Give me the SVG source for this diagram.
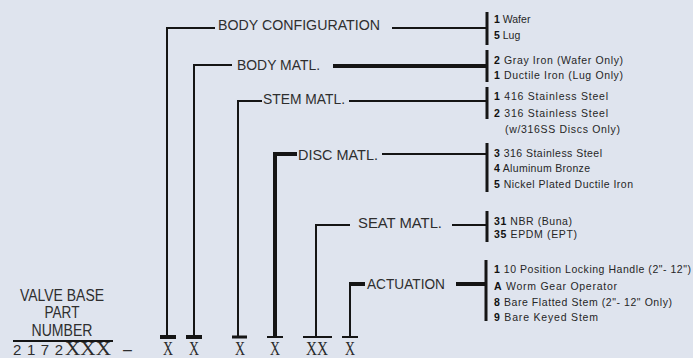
<svg xmlns="http://www.w3.org/2000/svg" width="693" height="358" viewBox="0 0 693 358">
<style>
.ln{stroke:#151515;stroke-width:2;fill:none}
.thk{stroke-width:4}
.br{stroke:#151515;stroke-width:3;fill:none}
.lbl{font-family:"Liberation Sans",Arial,sans-serif;font-size:15px;fill:#2e2e2e}
.opt{font-family:"Liberation Sans",Arial,sans-serif;font-size:10.5px;fill:#262626}
.num{font-weight:bold;fill:#111}
.x{font-family:"Liberation Serif","Times New Roman",serif;font-size:18px;fill:#2a2a2a}
.pn{font-family:"Liberation Sans",Arial,sans-serif;font-size:16px;fill:#2e2e2e}
</style>
<rect width="693" height="358" fill="#dfe4ee"/>
<g id="connectors">
<path class="ln" d="M167 337V28H215"/>
<path class="ln" d="M194 337V65H232"/>
<path class="ln" d="M238 337V101H262"/>
<path class="ln thk" d="M275 337V154H297"/>
<path class="ln" d="M316 337V225H350"/>
<path class="ln" d="M350 337V284"/>
<path class="ln thk" d="M349 284H365"/>
<path class="ln thk" d="M160 337H176"/>
<path class="ln thk" d="M186 337H202"/>
<path class="ln" style="stroke-width:3" d="M232 337H247"/>
<path class="ln" d="M267 337H283"/>
<path class="ln" d="M303 337H332"/>
<path class="ln" d="M342 337H358"/>
<path class="ln" d="M392 28H487"/>
<path class="ln thk" d="M333 66H487"/>
<path class="ln" d="M349 101H487"/>
<path class="ln" d="M382 154H487"/>
<path class="ln" d="M452 225H487"/>
<path class="ln thk" d="M456 284H487"/>
</g>
<g id="body-configuration">
<text class="lbl" x="218" y="30" textLength="162" lengthAdjust="spacingAndGlyphs">BODY CONFIGURATION</text>
<path class="br" d="M487 12V45"/>
<text class="opt" x="494" y="23"><tspan class="num">1</tspan> Wafer</text>
<text class="opt" x="494" y="39"><tspan class="num">5</tspan> Lug</text>
</g>
<g id="body-matl">
<text class="lbl" x="237" y="70" textLength="83" lengthAdjust="spacingAndGlyphs">BODY MATL.</text>
<path class="br" d="M487 50V82"/>
<text class="opt" x="494" y="64" textLength="129"><tspan class="num">2</tspan> Gray Iron (Wafer Only)</text>
<text class="opt" x="494" y="79" textLength="129"><tspan class="num">1</tspan> Ductile Iron (Lug Only)</text>
</g>
<g id="stem-matl">
<text class="lbl" x="263" y="104" textLength="82" lengthAdjust="spacingAndGlyphs">STEM MATL.</text>
<path class="br" d="M487 87V119"/>
<text class="opt" x="494" y="100" textLength="114"><tspan class="num">1</tspan> 416 Stainless Steel</text>
<text class="opt" x="494" y="117" textLength="114"><tspan class="num">2</tspan> 316 Stainless Steel</text>
<text class="opt" x="505" y="133" textLength="115">(w/316SS Discs Only)</text>
</g>
<g id="disc-matl">
<text class="lbl" x="298" y="160" textLength="80" lengthAdjust="spacingAndGlyphs">DISC MATL.</text>
<path class="br" d="M487 143V192"/>
<text class="opt" x="494" y="157" textLength="108"><tspan class="num">3</tspan> 316 Stainless Steel</text>
<text class="opt" x="494" y="172" textLength="96"><tspan class="num">4</tspan> Aluminum Bronze</text>
<text class="opt" x="494" y="188" textLength="139"><tspan class="num">5</tspan> Nickel Plated Ductile Iron</text>
</g>
<g id="seat-matl">
<text class="lbl" x="358" y="228" textLength="84" lengthAdjust="spacingAndGlyphs">SEAT MATL.</text>
<path class="br" d="M487 211V242"/>
<text class="opt" x="494" y="225" textLength="78"><tspan class="num">31</tspan> NBR (Buna)</text>
<text class="opt" x="494" y="238" textLength="83"><tspan class="num">35</tspan> EPDM (EPT)</text>
</g>
<g id="actuation">
<text class="lbl" x="367" y="289" textLength="78" lengthAdjust="spacingAndGlyphs">ACTUATION</text>
<path class="br" d="M486 260V321"/>
<text class="opt" x="494" y="273" textLength="197"><tspan class="num">1</tspan> 10 Position Locking Handle (2"- 12")</text>
<text class="opt" x="494" y="290" textLength="123"><tspan class="num">A</tspan> Worm Gear Operator</text>
<text class="opt" x="494" y="306" textLength="178"><tspan class="num">8</tspan> Bare Flatted Stem (2"- 12" Only)</text>
<text class="opt" x="494" y="321" textLength="104"><tspan class="num">9</tspan> Bare Keyed Stem</text>
</g>
<g id="valve-base-part-number">
<text class="pn" x="62" y="301" text-anchor="middle" textLength="84" lengthAdjust="spacingAndGlyphs">VALVE BASE</text>
<text class="pn" x="62" y="318" text-anchor="middle" textLength="35" lengthAdjust="spacingAndGlyphs">PART</text>
<text class="pn" x="62" y="336" text-anchor="middle" textLength="61" lengthAdjust="spacingAndGlyphs">NUMBER</text>
<path class="ln" d="M13 341H113"/>
<text class="pn" x="13" y="355" style="font-size:15px" textLength="50" lengthAdjust="spacing">2172</text>
<text class="x" x="65" y="355" textLength="46" lengthAdjust="spacingAndGlyphs">XXX</text>
<text class="pn" x="123" y="355">–</text>
</g>
<g id="code-positions">
<text class="x" x="168" y="355" text-anchor="middle" textLength="10" lengthAdjust="spacingAndGlyphs">X</text>
<text class="x" x="194" y="355" text-anchor="middle" textLength="10" lengthAdjust="spacingAndGlyphs">X</text>
<text class="x" x="240" y="355" text-anchor="middle" textLength="10" lengthAdjust="spacingAndGlyphs">X</text>
<text class="x" x="275" y="355" text-anchor="middle" textLength="10" lengthAdjust="spacingAndGlyphs">X</text>
<text class="x" x="317" y="355" text-anchor="middle" textLength="22" lengthAdjust="spacingAndGlyphs">XX</text>
<text class="x" x="350" y="355" text-anchor="middle" textLength="10" lengthAdjust="spacingAndGlyphs">X</text>
</g>
</svg>
